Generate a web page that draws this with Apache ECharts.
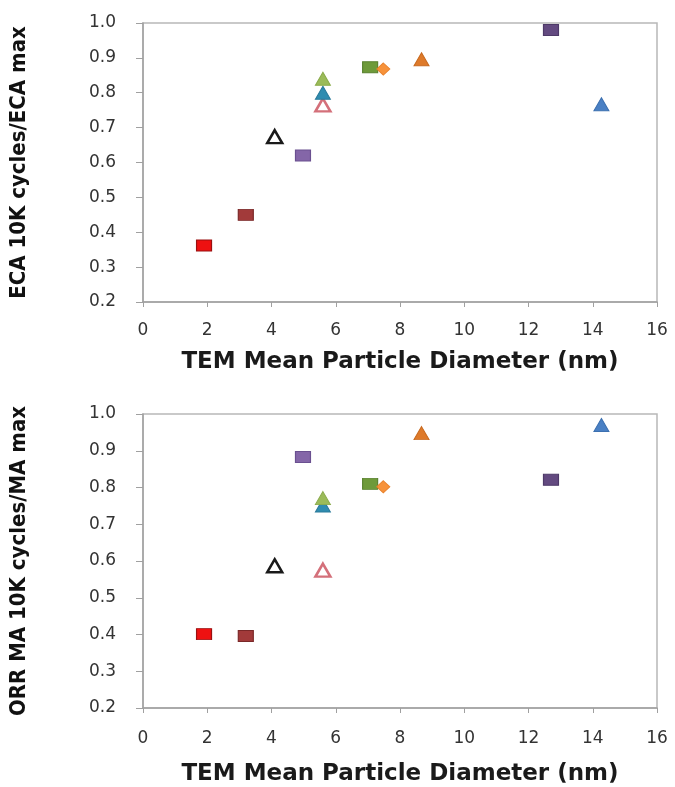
<!DOCTYPE html>
<html>
<head>
<meta charset="utf-8">
<script src="https://cdn.jsdelivr.net/npm/echarts@6/dist/echarts.min.js"></script>
<style>
  html, body { margin: 0; padding: 0; background: #fff; }
  #chart { width: 675px; height: 787px; }
</style>
</head>
<body>
<div id="chart"></div>
<script>
// TEM mean particle diameter (nm), one entry per catalyst
const diameter = [1.9, 3.2, 4.1, 4.98, 5.6, 5.6, 5.6, 7.07, 7.48, 8.67, 12.7, 14.27];
// ECA after 10K cycles / ECA max
const ecaRatio = [0.362, 0.450, 0.674, 0.620, 0.840, 0.800, 0.765, 0.873, 0.868, 0.896, 0.980, 0.767];
// ORR mass activity after 10K cycles / MA max
const maRatio = [0.401, 0.396, 0.587, 0.883, 0.771, 0.751, 0.575, 0.810, 0.802, 0.948, 0.821, 0.970];
const xTicks = [0, 2, 4, 6, 8, 10, 12, 14, 16];
const yTicks = [0.2, 0.3, 0.4, 0.5, 0.6, 0.7, 0.8, 0.9, 1.0];

// marker look for each catalyst (same order as the arrays above)
const markers = [
  { symbol: "rect", fill: "#ee1111", stroke: "#9a1010" },
  { symbol: "rect", fill: "#a23a3a", stroke: "#7a2828" },
  { symbol: "triangle", fill: "#ffffff", stroke: "#1a1a1a", open: true },
  { symbol: "rect", fill: "#8466a8", stroke: "#6a5090" },
  { symbol: "triangle", fill: "#9bbb59", stroke: "#8aab4a", z: 4 },
  { symbol: "triangle", fill: "#2f8cb0", stroke: "#2a7a9a", z: 3 },
  { symbol: "triangle", fill: "#ffffff", stroke: "#d4707a", open: true },
  { symbol: "rect", fill: "#6e9a3a", stroke: "#5a8230" },
  { symbol: "diamond", fill: "#f7923a", stroke: "#e8802a" },
  { symbol: "triangle", fill: "#de7a2a", stroke: "#c86a20" },
  { symbol: "rect", fill: "#634a80", stroke: "#4e3a68" },
  { symbol: "triangle", fill: "#4a80c4", stroke: "#3c70b0" },
];

const tickFont = "DejaVu Sans";
const axisGray = "#a0a0a0";

function symbolSize(sym) {
  if (sym === "rect") return [15, 11];
  if (sym === "diamond") return [13, 12];
  return [15, 13];
}

function buildSeries(values, idx) {
  return markers.map((m, i) => ({
    type: "scatter",
    xAxisIndex: idx,
    yAxisIndex: idx,
    symbol: m.symbol,
    symbolSize: symbolSize(m.symbol),
    z: m.z || 2,
    itemStyle: {
      color: m.fill,
      borderColor: m.stroke,
      borderWidth: m.open ? 2.5 : 1,
      opacity: 1,
    },
    data: [[diameter[i], values[i]]],
  }));
}

function xAxis(idx, labelMargin, nameGap) {
  return {
    gridIndex: idx,
    type: "value",
    min: xTicks[0],
    max: xTicks[xTicks.length - 1],
    interval: 2,
    name: "TEM Mean Particle Diameter (nm)",
    nameLocation: "middle",
    nameGap: nameGap,
    nameTextStyle: {
      fontFamily: tickFont,
      fontWeight: "bold",
      fontSize: 23,
      color: "#1a1a1a",
    },
    axisLine: { onZero: false, lineStyle: { color: axisGray, width: 1.5 } },
    axisTick: { show: true, length: 5, lineStyle: { color: axisGray } },
    axisLabel: {
      margin: labelMargin,
      fontFamily: tickFont,
      fontSize: 17,
      color: "#333",
    },
    splitLine: { show: false },
  };
}

function yAxis(idx, title, nameGap) {
  return {
    gridIndex: idx,
    type: "value",
    min: yTicks[0],
    max: yTicks[yTicks.length - 1],
    interval: 0.1,
    name: title,
    nameLocation: "middle",
    nameRotate: 90,
    nameGap: nameGap,
    nameTextStyle: {
      fontFamily: "'DejaVu Sans Condensed', 'DejaVu Sans', sans-serif",
      fontWeight: "bold",
      fontSize: 22,
      color: "#111",
    },
    axisLine: { onZero: false, lineStyle: { color: axisGray, width: 1.5 } },
    axisTick: { show: true, length: 7, lineStyle: { color: axisGray } },
    axisLabel: {
      margin: 27,
      fontFamily: tickFont,
      fontSize: 17,
      color: "#333",
      formatter: (v) => v.toFixed(1),
    },
    splitLine: { show: false },
  };
}

const myChart = echarts.init(document.getElementById("chart"));
const option = {
  animation: false,
  backgroundColor: "#fff",
  grid: [
    { left: 143, top: 23, width: 514, height: 279, show: true, borderColor: "#b8b8b8", borderWidth: 1.5 },
    { left: 142, top: 414, width: 515, height: 297, show: true, borderColor: "#b8b8b8", borderWidth: 1.5 },
  ],
  xAxis: [xAxis(0, 20, 49), xAxis(1, 22, 55)],
  yAxis: [
    yAxis(0, "ECA 10K cycles/ECA max", 113),
    yAxis(1, "ORR MA 10K cycles/MA max", 113),
  ],
  series: [...buildSeries(ecaRatio, 0), ...buildSeries(maRatio, 1)],
};
myChart.setOption(option);
</script>
</body>
</html>
